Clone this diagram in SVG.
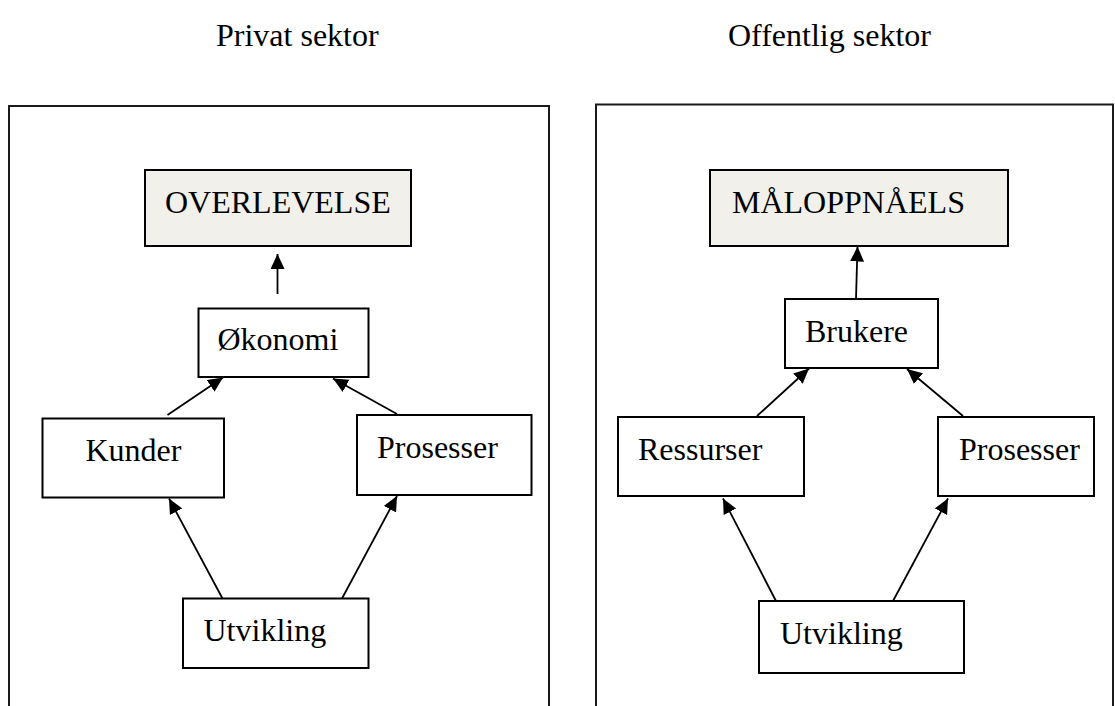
<svg xmlns="http://www.w3.org/2000/svg" width="1115" height="706" viewBox="0 0 1115 706">
  <style>
    .frame { fill: none; stroke: #1a1a1a; stroke-width: 2; }
    .box { fill: #ffffff; stroke: #000000; stroke-width: 2; }
    .goal { fill: #f2f0ea; stroke: #000000; stroke-width: 2; }
    .lbl { font-family: "Liberation Serif", "Times New Roman", serif; font-size: 32px; fill: #000000; }
    .edge { stroke: #000000; stroke-width: 1.8; fill: none; marker-end: url(#arrow); }
  </style>
  <defs>
    <marker id="arrow" markerUnits="userSpaceOnUse" markerWidth="16" markerHeight="15" refX="15" refY="7" orient="auto">
      <path d="M0,0 L15,7 L0,14 z" fill="#000000"/>
    </marker>
  </defs>
  <rect width="1115" height="706" fill="#ffffff"/>

  <!-- sector headings -->
  <text class="lbl" x="216" y="46">Privat sektor</text>
  <text class="lbl" x="728" y="46">Offentlig sektor</text>

  <!-- sector frames -->
  <rect id="frame-private" class="frame" x="9" y="106" width="540" height="630"/>
  <rect id="frame-public" class="frame" x="596" y="104.5" width="517" height="630"/>

  <!-- private sector nodes -->
  <g id="overlevelse">
    <rect class="goal" x="145" y="170" width="266" height="76"/>
    <text class="lbl" x="165" y="213">OVERLEVELSE</text>
  </g>
  <g id="okonomi">
    <rect class="box" x="198.5" y="308.5" width="170" height="68.5"/>
    <text class="lbl" x="217.5" y="350">Økonomi</text>
  </g>
  <g id="kunder">
    <rect class="box" x="42.5" y="418.5" width="181.5" height="79"/>
    <text class="lbl" x="85.5" y="461">Kunder</text>
  </g>
  <g id="prosesser-privat">
    <rect class="box" x="357" y="415" width="174.5" height="80"/>
    <text class="lbl" x="377" y="458">Prosesser</text>
  </g>
  <g id="utvikling-privat">
    <rect class="box" x="183" y="598.5" width="185.5" height="69.5"/>
    <text class="lbl" x="203.5" y="640.5">Utvikling</text>
  </g>

  <!-- public sector nodes -->
  <g id="maloppnaels">
    <rect class="goal" x="710" y="170" width="298" height="76"/>
    <text class="lbl" x="732" y="213">MÅLOPPNÅELS</text>
  </g>
  <g id="brukere">
    <rect class="box" x="785" y="299" width="153" height="69"/>
    <text class="lbl" x="805" y="342">Brukere</text>
  </g>
  <g id="ressurser">
    <rect class="box" x="618" y="417" width="186" height="79"/>
    <text class="lbl" x="638" y="460">Ressurser</text>
  </g>
  <g id="prosesser-offentlig">
    <rect class="box" x="938" y="417" width="156" height="79"/>
    <text class="lbl" x="959" y="460">Prosesser</text>
  </g>
  <g id="utvikling-offentlig">
    <rect class="box" x="759" y="601" width="205" height="72"/>
    <text class="lbl" x="780" y="644">Utvikling</text>
  </g>

  <!-- connectors -->
  <g id="connectors">
    <line class="edge" x1="277.5" y1="294" x2="277.5" y2="254"/>
    <line class="edge" x1="167.5" y1="415" x2="223" y2="377.5"/>
    <line class="edge" x1="397" y1="414" x2="333" y2="378.5"/>
    <line class="edge" x1="222.5" y1="598.5" x2="169" y2="498.5"/>
    <line class="edge" x1="342" y1="598.5" x2="397" y2="496"/>

    <line class="edge" x1="856" y1="299" x2="857.5" y2="246.5"/>
    <line class="edge" x1="757" y1="416" x2="809" y2="368.5"/>
    <line class="edge" x1="963" y1="416" x2="907" y2="369"/>
    <line class="edge" x1="776" y1="601" x2="723" y2="498.5"/>
    <line class="edge" x1="893" y1="601" x2="948" y2="498.5"/>
  </g>
</svg>
